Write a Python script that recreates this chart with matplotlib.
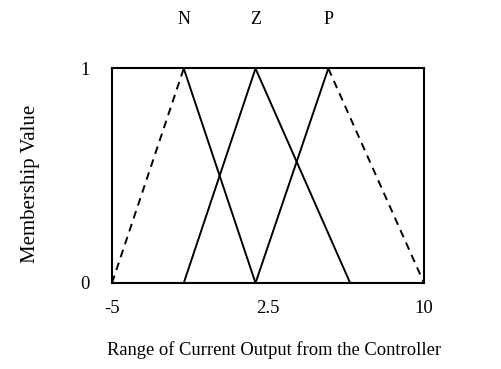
import matplotlib.pyplot as plt
from matplotlib.transforms import blended_transform_factory

plt.rcParams["font.family"] = ["Liberation Serif", "DejaVu Serif"]

# membership breakpoints on the output range
x_min, x_max = -5.0, 10.0
n_peak = -1.55
z_peak = 1.9
z_end = 6.45
p_peak = 5.4

set_names = ["N", "Z", "P"]
set_peaks = [n_peak, z_peak, p_peak]

x_ticks = [-5, 2.5, 10]
x_tick_labels = ["-5", "2.5", "10"]
y_ticks = [0, 1]
y_tick_labels = ["0", "1"]

fig = plt.figure(figsize=(5.02, 3.69), dpi=100)
ax = fig.add_axes([0.2231, 0.2331, 0.6215, 0.5813])

lw = 1.4
dash = (0, (4, 3))

# N: dashed left shoulder, solid right side
ax.plot([x_min, n_peak], [0, 1], color="black", lw=lw, linestyle=dash)
ax.plot([n_peak, z_peak], [1, 0], color="black", lw=lw)
# Z
ax.plot([n_peak, z_peak, z_end], [0, 1, 0], color="black", lw=lw)
# P: solid left side, dashed right shoulder
ax.plot([z_peak, p_peak], [0, 1], color="black", lw=lw)
ax.plot([p_peak, x_max], [1, 0], color="black", lw=lw, linestyle=dash)

ax.set_xlim(x_min, x_max)
ax.set_ylim(0, 1)
ax.set_xticks(x_ticks)
ax.set_xticklabels(x_tick_labels)
ax.set_yticks(y_ticks)
ax.set_yticklabels(y_tick_labels)
ax.tick_params(axis="both", length=0, labelsize=13.5)
ax.tick_params(axis="x", pad=12)
ax.tick_params(axis="y", pad=16)
for spine in ax.spines.values():
    spine.set_linewidth(1.5)

trans = blended_transform_factory(ax.transData, fig.transFigure)
for name, peak in zip(set_names, set_peaks):
    ax.text(peak, 1 - 19 / 369, name, transform=trans, ha="center", va="center",
            fontsize=13)

fig.text(274 / 502, 1 - 350 / 369, "Range of Current Output from the Controller",
         ha="center", va="center", fontsize=13.3)
fig.text(31 / 502, 1 - 184 / 369, "Membership Value", rotation=90,
         ha="center", va="center", fontsize=15)

fig.savefig("out.png", dpi=100)
